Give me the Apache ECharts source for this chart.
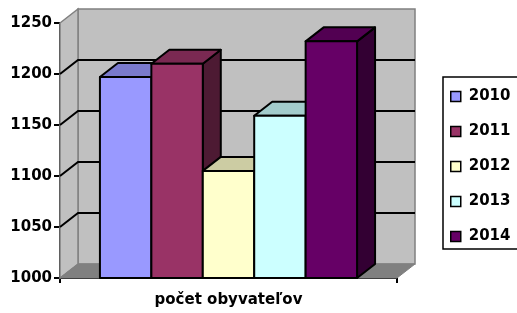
<!DOCTYPE html>
<html>
<head>
<meta charset="utf-8">
<script src="https://cdn.jsdelivr.net/npm/echarts@6/dist/echarts.min.js"></script>
<style>
  html, body { margin: 0; padding: 0; background: #fff; }
  #chart { width: 517px; height: 313px; }
</style>
</head>
<body>
<div id="chart"></div>
<script>
// Data
const category = ['počet obyvateľov'];
const years = ['2010', '2011', '2012', '2013', '2014'];
const population = [1197, 1210, 1105, 1159, 1232];
const yTicks = [1000, 1050, 1100, 1150, 1200, 1250];

// Styling
const colors = ['#9999FF', '#993366', '#FFFFCC', '#CCFFFF', '#660066'];
const FONT = 'DejaVu Sans';
const DX = 18;      // 3D depth offset in px
const DY = -14;
const GROUP_RATIO = 0.763;

// darken a hex colour by factor f
function shade(hex, f) {
    const n = parseInt(hex.slice(1), 16);
    const r = Math.round(((n >> 16) & 255) * f);
    const g = Math.round(((n >> 8) & 255) * f);
    const b = Math.round((n & 255) * f);
    return 'rgb(' + r + ',' + g + ',' + b + ')';
}

// back wall, side wall, floor and gridlines
function renderWall(params, api) {
    const cs = params.coordSys;
    const xl = cs.x, xr = cs.x + cs.width;
    const yb = api.coord([0, yTicks[0]])[1];
    const yt = api.coord([0, yTicks[yTicks.length - 1]])[1];
    const children = [];
    children.push({
        type: 'polygon',
        shape: { points: [[xl + DX, yt + DY], [xr + DX, yt + DY], [xr + DX, yb + DY], [xl + DX, yb + DY]] },
        style: { fill: '#C0C0C0', stroke: '#808080', lineWidth: 1.5 }
    });
    children.push({
        type: 'polygon',
        shape: { points: [[xl, yt], [xl + DX, yt + DY], [xl + DX, yb + DY], [xl, yb]] },
        style: { fill: '#C0C0C0', stroke: '#808080', lineWidth: 1.5 }
    });
    children.push({
        type: 'polygon',
        shape: { points: [[xl, yb], [xr, yb], [xr + DX, yb + DY], [xl + DX, yb + DY]] },
        style: { fill: '#808080', stroke: '#808080', lineWidth: 1 }
    });
    yTicks.slice(1, -1).forEach(function (v) {
        const y = api.coord([0, v])[1];
        children.push({
            type: 'polyline',
            shape: { points: [[xl, y], [xl + DX, y + DY], [xr + DX, y + DY]] },
            style: { fill: null, stroke: '#000', lineWidth: 2 }
        });
    });
    return { type: 'group', children: children };
}

// one 3D bar per series
function renderBar(params, api) {
    const cs = params.coordSys;
    const i = params.seriesIndex;
    const groupW = cs.width * GROUP_RATIO;
    const barW = groupW / years.length;
    const x0 = cs.x + (cs.width - groupW) / 2 + i * barW;
    const x1 = x0 + barW;
    const yTop = api.coord([0, api.value(1)])[1];
    const yBase = api.coord([0, yTicks[0]])[1];
    const base = colors[i];
    const stroke = { stroke: '#000', lineWidth: 2, lineJoin: 'round' };
    return {
        type: 'group',
        children: [
            {
                type: 'polygon',
                shape: { points: [[x1, yTop], [x1 + DX, yTop + DY], [x1 + DX, yBase + DY], [x1, yBase]] },
                style: Object.assign({ fill: shade(base, 0.5) }, stroke)
            },
            {
                type: 'polygon',
                shape: { points: [[x0, yTop], [x1, yTop], [x1 + DX, yTop + DY], [x0 + DX, yTop + DY]] },
                style: Object.assign({ fill: shade(base, 0.8) }, stroke)
            },
            {
                type: 'rect',
                shape: { x: x0, y: yTop, width: barW, height: yBase - yTop },
                style: Object.assign({ fill: base }, stroke)
            }
        ]
    };
}

const chart = echarts.init(document.getElementById('chart'));

const series = years.map(function (year, i) {
    return {
        name: year,
        type: 'custom',
        renderItem: renderBar,
        z: 3,
        itemStyle: { color: colors[i], borderColor: '#000', borderWidth: 1.5 },
        data: [[0, population[i]]]
    };
});
series.push({
    name: 'wall',
    type: 'custom',
    renderItem: renderWall,
    z: 1,
    silent: true,
    data: [[0, yTicks[0]]]
});

chart.setOption({
    animation: false,
    backgroundColor: '#fff',
    grid: { left: 60, top: 23, right: 120, bottom: 35 },
    // legend frame runs off the right edge of the picture
    graphic: [{
        type: 'rect',
        shape: { x: 443, y: 77, width: 100, height: 172 },
        style: { fill: null, stroke: '#000', lineWidth: 1.5 }
    }],
    legend: {
        data: years,
        orient: 'vertical',
        left: 443,
        top: 77,
        padding: [12, 10, 8, 7],
        itemWidth: 10,
        itemHeight: 10,
        itemGap: 20,
        icon: 'rect',
        itemStyle: { borderColor: '#000', borderWidth: 1.5 },
        textStyle: { fontFamily: FONT, fontWeight: 'bold', fontSize: 15, color: '#000', lineHeight: 14, padding: [0, 0, 0, 3] }
    },
    xAxis: {
        type: 'category',
        data: category,
        axisLine: { lineStyle: { color: '#000', width: 2 } },
        axisTick: { show: true, length: 5, lineStyle: { color: '#000', width: 2 } },
        axisLabel: { fontFamily: FONT, fontWeight: 'bold', fontSize: 15, color: '#000', margin: 15 },
        splitLine: { show: false }
    },
    yAxis: {
        type: 'value',
        min: yTicks[0],
        max: yTicks[yTicks.length - 1],
        interval: yTicks[1] - yTicks[0],
        axisLine: { show: true, lineStyle: { color: '#000', width: 2 } },
        axisTick: { show: true, length: 6, lineStyle: { color: '#000', width: 2 } },
        axisLabel: {
            fontFamily: FONT, fontWeight: 'bold', fontSize: 15, color: '#000', margin: 8,
            formatter: function (v) { return String(v); }
        },
        splitLine: { show: false }
    },
    series: series
});
</script>
</body>
</html>
